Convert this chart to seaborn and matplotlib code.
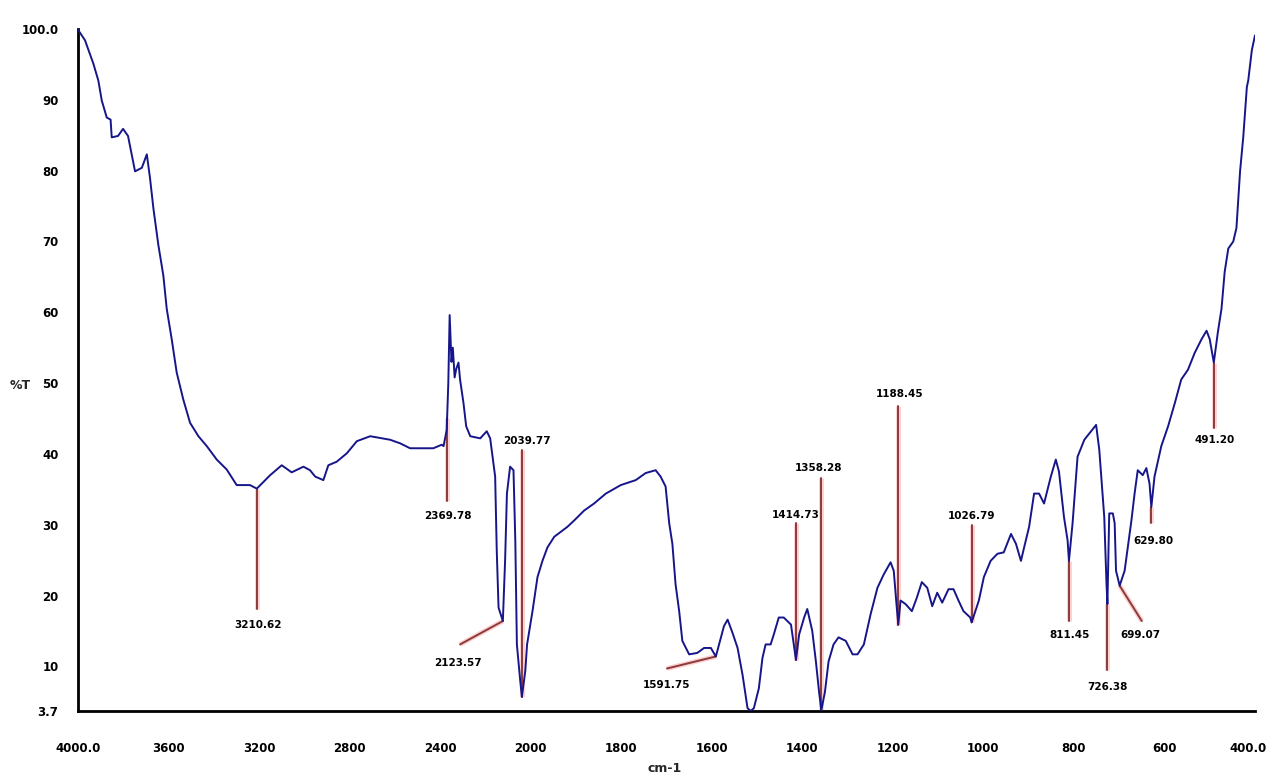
import numpy as np
import pandas as pd
import matplotlib
matplotlib.use("Agg")
import matplotlib.pyplot as plt
import matplotlib.transforms as mtransforms
import seaborn as sns

sns.set_theme(style="white")
plt.rcParams['font.family'] = ['DejaVu Sans']

# espectro IR (cm-1, %T)
wavenumber = [4000, 3969, 3932, 3910, 3895, 3873, 3856, 3851, 3823, 3801, 3779, 3748, 3718, 3696,
              3682, 3667, 3645, 3623, 3608, 3586, 3564, 3535, 3505, 3468, 3431, 3387, 3343, 3299,
              3240, 3210, 3151, 3100, 3056, 3004, 2975, 2952, 2916, 2894, 2857, 2812, 2768, 2709,
              2621, 2577, 2533, 2430, 2393, 2385, 2371, 2364, 2358, 2350, 2344, 2336, 2329, 2319,
              2312, 2297, 2285, 2267, 2223, 2194, 2179, 2157, 2150, 2142, 2123, 2113, 2105, 2091,
              2076, 2068, 2061, 2046, 2039, 2024, 2016, 1996, 1985, 1974, 1963, 1948, 1919, 1904,
              1882, 1860, 1834, 1801, 1768, 1746, 1724, 1713, 1702, 1694, 1687, 1680, 1672, 1665,
              1650, 1632, 1617, 1602, 1591, 1573, 1565, 1554, 1543, 1532, 1521, 1514, 1507, 1496,
              1488, 1481, 1470, 1463, 1452, 1441, 1425, 1414, 1407, 1396, 1389, 1378, 1370, 1363,
              1358, 1350, 1342, 1331, 1320, 1304, 1289, 1278, 1264, 1249, 1234, 1220, 1205, 1198,
              1192, 1188, 1183, 1172, 1158, 1147, 1136, 1124, 1113, 1102, 1091, 1077, 1066, 1055,
              1044, 1029, 1026, 1010, 999, 984, 969, 955, 939, 928, 917, 910, 899, 888, 877, 866,
              851, 840, 833, 822, 814, 811, 803, 792, 777, 762, 751, 744, 733, 728, 726, 722, 714,
              710, 707, 699, 688, 681, 673, 666, 659, 648, 640, 633, 629, 622, 607, 592, 577, 563,
              548, 533, 518, 507, 500, 491, 482, 474, 467, 459, 448, 441, 433, 426, 418, 415, 407, 400]
transmittance = [99.9, 98.4, 95.1, 92.7, 89.9, 87.5, 87.2, 84.7, 84.9, 85.9, 84.9, 79.9, 80.4, 82.3,
                 79.0, 74.7, 69.5, 65.2, 60.5, 56.2, 51.5, 47.7, 44.4, 42.5, 41.1, 39.2, 37.8, 35.6,
                 35.6, 35.1, 37.0, 38.4, 37.4, 38.2, 37.7, 36.8, 36.3, 38.4, 38.9, 40.1, 41.8, 42.5,
                 42.0, 41.5, 40.8, 40.8, 41.3, 41.1, 43.4, 50.0, 59.6, 53.0, 55.0, 50.8, 52.0, 52.9,
                 50.5, 47.2, 43.9, 42.5, 42.2, 43.2, 42.2, 36.8, 26.4, 18.3, 16.4, 25.0, 34.4, 38.2,
                 37.7, 27.8, 13.1, 7.9, 5.7, 9.3, 13.1, 17.8, 22.6, 24.9, 26.8, 28.3, 29.7, 30.6,
                 32.0, 33.0, 34.4, 35.6, 36.3, 37.3, 37.7, 36.8, 35.4, 30.2, 27.3, 21.6, 17.8, 13.6,
                 11.7, 11.9, 12.6, 12.6, 11.4, 15.7, 16.6, 14.7, 12.6, 8.8, 4.1, 3.7, 4.1, 6.9,
                 11.2, 13.1, 13.1, 14.5, 16.9, 16.9, 15.9, 10.9, 14.5, 16.9, 18.1, 15.0, 10.7, 6.4,
                 3.8, 6.4, 10.7, 13.1, 14.1, 13.6, 11.7, 11.7, 13.1, 17.4, 21.1, 23.0, 24.7, 23.5,
                 18.8, 15.9, 19.3, 18.8, 17.8, 19.7, 21.9, 21.1, 18.5, 20.4, 19.0, 20.9, 20.9, 19.3,
                 17.8, 16.9, 16.2, 19.3, 22.6, 24.9, 25.9, 26.1, 28.7, 27.3, 24.9, 26.8, 29.7, 34.4, 34.4, 33.0,
                 36.8, 39.2, 37.5, 31.1, 27.8, 24.9, 30.2, 39.6, 42.0, 43.2, 44.1, 40.6, 31.1, 21.6, 18.8, 31.6, 31.6,
                 30.2, 23.5, 21.4, 23.5, 26.8, 30.6, 34.4, 37.7, 37.0, 38.0, 35.8, 32.5, 36.8, 41.1, 43.9, 47.2, 50.5,
                 51.9, 54.3, 56.2, 57.4, 56.2, 52.9, 57.2, 60.5, 65.7, 69.0, 70.0, 71.9, 79.9, 84.7, 91.8, 92.7, 97.0, 99.1]

# picos marcados: texto, extremo de la linea y posicion del texto
peak_labels = ["3210.62", "2369.78", "2123.57", "2039.77", "1591.75", "1414.73", "1358.28",
               "1188.45", "1026.79", "811.45", "726.38", "699.07", "629.80", "491.20"]
line_x0 = [3210, 2369, 2123, 2039, 1591, 1414, 1358, 1188, 1026, 811, 726, 699, 629, 491]
line_y0 = [35.1, 45.1, 16.4, 5.7, 11.4, 10.9, 3.8, 15.9, 16.2, 24.9, 18.8, 21.4, 32.5, 52.9]
line_x1 = [3210, 2369, 2312, 2039, 1699, 1414, 1358, 1188, 1026, 811, 726, 650, 629, 491]
line_y1 = [18.1, 33.4, 13.1, 40.5, 9.7, 30.2, 36.6, 46.8, 29.9, 16.4, 9.5, 16.4, 30.2, 43.7]
text_x = [3206, 2365, 2321, 2016, 1699, 1414, 1363, 1186, 1026, 810, 726, 654, 625, 489]
text_y = [15.9, 31.3, 10.5, 41.8, 7.4, 31.4, 38.0, 48.5, 31.2, 14.5, 7.1, 14.5, 27.7, 42.0]

x_ticks = [4000, 3600, 3200, 2800, 2400, 2000, 1800, 1600, 1400, 1200, 1000, 800, 600, 400]
x_tick_labels = ["4000.0", "3600", "3200", "2800", "2400", "2000", "1800", "1600", "1400",
                 "1200", "1000", "800", "600", "400.0"]
y_ticks = [3.7, 10, 20, 30, 40, 50, 60, 70, 80, 90, 100]
y_tick_labels = ["3.7", "10", "20", "30", "40", "50", "60", "70", "80", "90", "100.0"]


# escala partida: 400 cm-1 por division hasta 2000, 200 cm-1 por division debajo
def fwd(w):
    w = np.asarray(w, dtype=float)
    return np.where(w <= 2000, w / 200.0, 10 + (w - 2000) / 400.0)


def inv(p):
    p = np.asarray(p, dtype=float)
    return np.where(p <= 10, p * 200.0, 2000 + (p - 10) * 400.0)


df = pd.DataFrame({"cm-1": wavenumber, "%T": transmittance})

fig = plt.figure(figsize=(12.7, 7.77), dpi=100)
ax = fig.add_axes([78 / 1270, 1 - 711 / 777, (1255 - 78) / 1270, (711 - 29) / 777])
ax.set_xscale("function", functions=(fwd, inv))

for i in range(len(peak_labels)):
    ax.plot([line_x0[i], line_x1[i]], [line_y0[i], line_y1[i]], color="#ffd0d0", lw=3.5,
            solid_capstyle="butt", zorder=1)
    ax.plot([line_x0[i], line_x1[i]], [line_y0[i], line_y1[i]], color="#8a3b3b", lw=1.4, zorder=2)
    ax.text(text_x[i], text_y[i], peak_labels[i], ha="center", va="center",
            fontsize=7.5, fontweight="bold", color="black", zorder=4)

sns.lineplot(data=df, x="cm-1", y="%T", sort=False, estimator=None, color="#16168a",
             linewidth=1.4, ax=ax, zorder=3)

ax.set_xlim(4000, 400)
ax.set_ylim(3.7, 100)
ax.set_xticks(x_ticks)
ax.set_xticklabels(x_tick_labels, fontsize=8.5, fontweight="bold")
ax.set_yticks(y_ticks)
ax.set_yticklabels(y_tick_labels, fontsize=8.5, fontweight="bold")
ax.minorticks_off()
ax.tick_params(axis="x", direction="out", length=4, width=1.2, pad=18, colors="black")
ax.tick_params(axis="y", direction="in", length=4, width=1.2, pad=14, colors="black")
ax.tick_params(axis="x", which="minor", length=0)

# la ultima etiqueta se recorre para que no quede cortada
last = ax.get_xticklabels()[-1]
last.set_horizontalalignment("right")
last.set_transform(last.get_transform() + mtransforms.ScaledTranslation(12 / 100, 0, fig.dpi_scale_trans))

for side in ["top", "right"]:
    ax.spines[side].set_visible(False)
for side in ["left", "bottom"]:
    ax.spines[side].set_color("black")
    ax.spines[side].set_linewidth(2)

ax.set_xlabel("")
ax.set_ylabel("")
fig.text(20 / 1270, 1 - 385 / 777, "%T", fontsize=9, fontweight="bold", ha="center", va="center")
fig.text(665 / 1270, 1 - 768 / 777, "cm-1", fontsize=9, fontweight="bold", ha="center", va="center")

fig.savefig("out.png", dpi=100)
